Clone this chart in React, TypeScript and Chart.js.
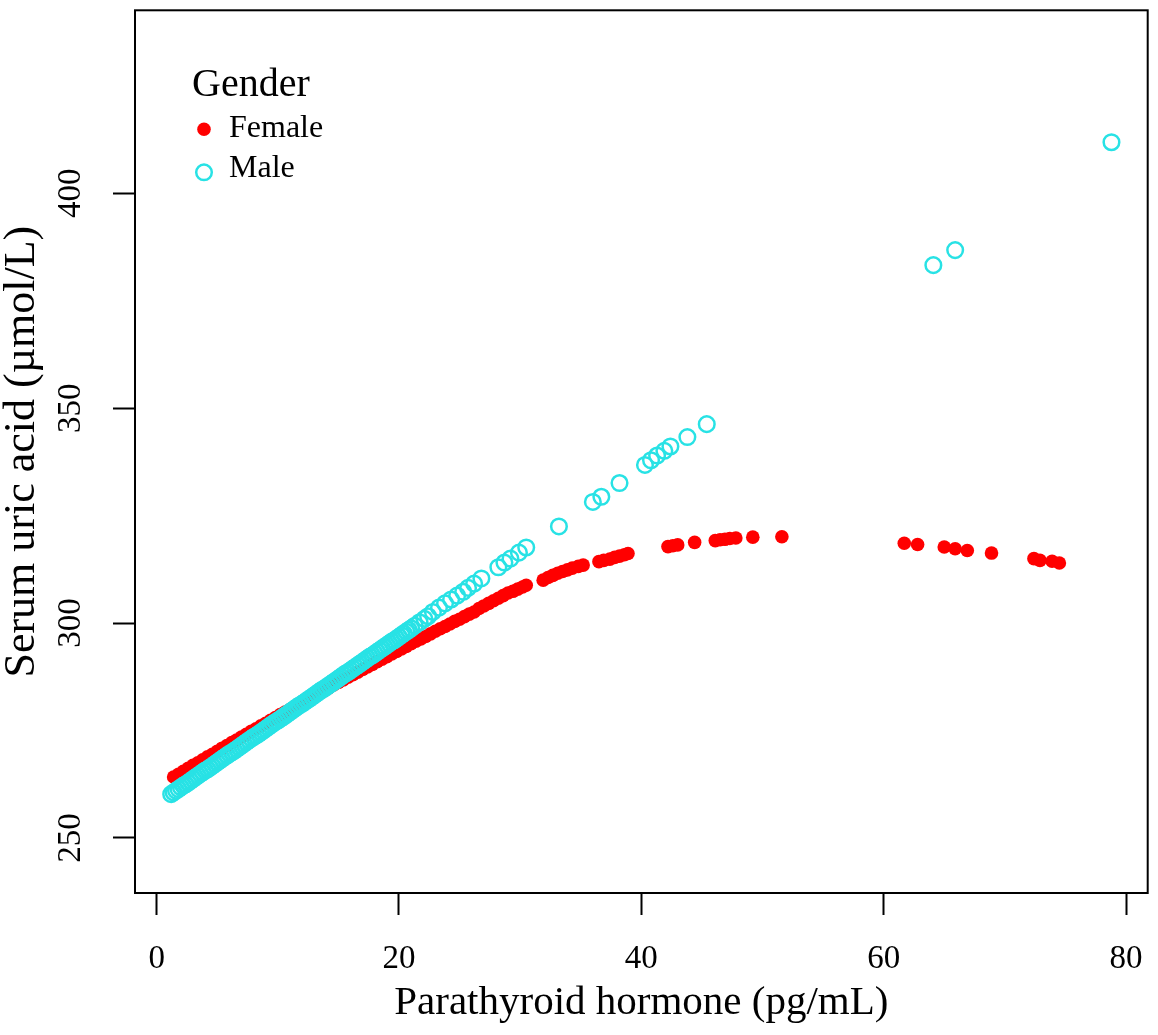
import { Chart, registerables, type Plugin } from 'chart.js';
import { type FC, useEffect, useRef } from 'react';

Chart.register(...registerables);

const FONT = "'Liberation Serif', 'Times New Roman', serif";

const xTicks = [0, 20, 40, 60, 80];
const yTicks = [250, 300, 350, 400];

const femaleX = [
  1.4, 1.8, 2.2, 2.6, 3.0, 3.4, 3.8, 4.2, 4.6, 5.0, 5.4, 5.8, 6.2, 6.6, 7.0, 7.4, 7.8, 8.2, 8.6, 9.0,
  9.4, 9.8, 10.2, 10.6, 11.0, 11.4, 11.8, 12.2, 12.6, 13.0, 13.4, 13.8, 14.2, 14.6, 15.0, 15.4, 15.8,
  16.2, 16.6, 17.0, 17.4, 17.8, 18.2, 18.6, 19.0, 19.4, 19.8, 20.2, 20.6, 21.0, 21.4, 21.8, 22.2, 22.6,
  23.0, 23.4, 23.8, 24.2, 24.6, 25.0, 25.4, 25.8, 26.2, 26.6, 27.0, 27.4, 27.8, 28.2, 28.6, 29.0, 29.4,
  29.8, 30.2, 30.5, 31.9, 32.3, 32.7, 33.1, 33.5, 33.9, 34.3, 34.8, 35.2, 36.5, 36.9, 37.4, 37.8, 38.2,
  38.6, 38.9, 42.2, 42.6, 43.0, 44.4, 46.1, 46.5, 46.9, 47.3, 47.8, 49.2, 51.6, 61.7, 62.8, 65.0, 65.9,
  66.9, 68.9, 72.4, 72.9, 73.9, 74.5,
];
const femaleY = [
  264.2, 264.8, 265.5, 266.2, 266.9, 267.5, 268.2, 268.9, 269.5, 270.2, 270.9, 271.5, 272.2, 272.8,
  273.5, 274.1, 274.8, 275.4, 276.1, 276.7, 277.4, 278.0, 278.7, 279.3, 279.9, 280.6, 281.2, 281.8,
  282.4, 283.1, 283.7, 284.3, 284.9, 285.6, 286.2, 286.8, 287.4, 288.0, 288.6, 289.2, 289.8, 290.4,
  291.0, 291.6, 292.2, 292.8, 293.4, 294.0, 294.6, 295.2, 295.8, 296.3, 296.9, 297.5, 298.1, 298.7,
  299.2, 299.8, 300.4, 300.9, 301.5, 302.1, 302.6, 303.4, 304.0, 304.6, 305.2, 305.8, 306.4, 307.0,
  307.4, 307.9, 308.4, 308.8, 310.0, 310.6, 311.1, 311.6, 312.0, 312.4, 312.8, 313.2, 313.5, 314.3,
  314.6, 314.9, 315.3, 315.6, 315.9, 316.2, 317.8, 318.0, 318.2, 318.8, 319.2, 319.4, 319.5, 319.7,
  319.8, 320.0, 320.1, 318.6, 318.3, 317.7, 317.3, 316.9, 316.3, 315.0, 314.6, 314.4, 314.0,
];

const maleX = [
  1.2, 1.4, 1.6, 1.8, 2.0, 2.2, 2.4, 2.6, 2.8, 3.0, 3.2, 3.4, 3.6, 3.8, 4.0, 4.2, 4.4, 4.6, 4.8, 5.0,
  5.2, 5.4, 5.6, 5.8, 6.0, 6.2, 6.4, 6.6, 6.8, 7.0, 7.2, 7.4, 7.6, 7.8, 8.0, 8.2, 8.4, 8.6, 8.8, 9.0,
  9.2, 9.4, 9.6, 9.8, 10.0, 10.2, 10.4, 10.6, 10.8, 11.0, 11.2, 11.4, 11.6, 11.8, 12.0, 12.2, 12.4,
  12.6, 12.8, 13.0, 13.2, 13.4, 13.6, 13.8, 14.0, 14.2, 14.4, 14.6, 14.8, 15.0, 15.2, 15.4, 15.6, 15.8,
  16.0, 16.2, 16.4, 16.6, 16.8, 17.0, 17.2, 17.4, 17.6, 17.8, 18.0, 18.2, 18.4, 18.6, 18.8, 19.0, 19.2,
  19.4, 19.6, 19.8, 20.0, 20.2, 20.4, 20.6, 20.8, 21.0, 21.3, 21.7, 22.1, 22.4, 22.8, 23.3, 23.8, 24.3,
  24.8, 25.3, 25.7, 26.2, 26.8, 28.2, 28.7, 29.2, 29.9, 30.5, 33.2, 36.0, 36.7, 38.2, 40.3, 40.8, 41.3,
  41.9, 42.4, 43.8, 45.4, 64.1, 65.9, 78.8,
];
const maleY = [
  260.2, 260.6, 261.0, 261.4, 261.8, 262.2, 262.5, 262.9, 263.3, 263.7, 264.1, 264.5, 264.9, 265.3,
  265.7, 266.0, 266.4, 266.8, 267.2, 267.6, 268.0, 268.4, 268.8, 269.2, 269.6, 269.9, 270.3, 270.7,
  271.1, 271.5, 271.9, 272.3, 272.7, 273.1, 273.5, 273.8, 274.2, 274.6, 275.0, 275.4, 275.8, 276.2,
  276.6, 277.0, 277.3, 277.7, 278.1, 278.5, 278.9, 279.3, 279.7, 280.1, 280.5, 280.9, 281.2, 281.6,
  282.0, 282.4, 282.8, 283.2, 283.6, 284.0, 284.4, 284.7, 285.1, 285.5, 285.9, 286.3, 286.7, 287.1,
  287.5, 287.9, 288.3, 288.6, 289.0, 289.4, 289.8, 290.2, 290.6, 291.0, 291.4, 291.8, 292.2, 292.5,
  292.9, 293.3, 293.7, 294.1, 294.5, 294.9, 295.3, 295.7, 296.0, 296.4, 296.8, 297.2, 297.6, 298.0,
  298.4, 298.8, 299.4, 300.2, 301.0, 301.6, 302.6, 303.6, 304.6, 305.5, 306.4, 307.3, 308.2, 309.2,
  310.4, 313.0, 314.1, 315.0, 316.4, 317.6, 322.5, 328.2, 329.4, 332.6, 336.8, 337.9, 339.0, 340.1,
  341.1, 343.3, 346.3, 383.3, 386.8, 411.9,
];

const FEMALE_COLOR = '#FF0000';
const MALE_COLOR = '#28E2E5';

// box around the plot region + the "Gender" key in its top-left corner
const framePlugin: Plugin<'scatter'> = {
  id: 'frame',
  afterDraw(chart) {
    const { ctx, chartArea } = chart;
    ctx.save();
    ctx.strokeStyle = '#000';
    ctx.lineWidth = 2;
    ctx.strokeRect(chartArea.left, chartArea.top, chartArea.right - chartArea.left, chartArea.bottom - chartArea.top);

    const lx = chartArea.left + 57;
    const ly = chartArea.top;
    ctx.fillStyle = '#000';
    ctx.textBaseline = 'alphabetic';
    ctx.textAlign = 'left';
    ctx.font = `40px ${FONT}`;
    ctx.fillText('Gender', lx, ly + 86);

    ctx.font = `32px ${FONT}`;
    const labels = chart.data.datasets.map((d) => d.label ?? '');
    ctx.fillText(labels[0], lx + 37, ly + 127);
    ctx.fillText(labels[1], lx + 37, ly + 167);

    ctx.beginPath();
    ctx.arc(lx + 12, ly + 119, 6.8, 0, Math.PI * 2);
    ctx.fillStyle = FEMALE_COLOR;
    ctx.fill();

    ctx.beginPath();
    ctx.arc(lx + 12, ly + 162, 7.8, 0, Math.PI * 2);
    ctx.strokeStyle = MALE_COLOR;
    ctx.lineWidth = 2.5;
    ctx.stroke();
    ctx.restore();
  },
};

const ScatterChart: FC = () => {
  const canvasRef = useRef<HTMLCanvasElement>(null);
  const chartRef = useRef<Chart<'scatter'> | null>(null);

  useEffect(() => {
    if (!canvasRef.current) return;

    chartRef.current = new Chart(canvasRef.current, {
      type: 'scatter',
      data: {
        datasets: [
          {
            label: 'Female',
            data: femaleX.map((x, i) => ({ x, y: femaleY[i] })),
            backgroundColor: FEMALE_COLOR,
            borderWidth: 0,
            pointRadius: 6.8,
            pointHoverRadius: 6.8,
            order: 2,
          },
          {
            label: 'Male',
            data: maleX.map((x, i) => ({ x, y: maleY[i] })),
            backgroundColor: 'rgba(0,0,0,0)',
            borderColor: MALE_COLOR,
            borderWidth: 2.5,
            pointRadius: 7.8,
            pointHoverRadius: 7.8,
            order: 1,
          },
        ],
      },
      options: {
        animation: false,
        responsive: true,
        maintainAspectRatio: false,
        events: [],
        layout: { padding: { top: 6, right: 8, left: 0, bottom: 0 } },
        plugins: {
          legend: { display: false },
          tooltip: { enabled: false },
        },
        scales: {
          x: {
            type: 'linear',
            min: -1.787,
            max: 81.79,
            afterBuildTicks: (scale) => {
              scale.ticks = xTicks.map((value) => ({ value }));
            },
            afterFit: (scale) => {
              scale.height = 142;
              scale.paddingLeft = 0;
              scale.paddingRight = 0;
            },
            border: { display: false },
            grid: {
              drawOnChartArea: false,
              drawTicks: true,
              tickLength: 22,
              tickColor: '#000',
              tickWidth: 2,
            },
            ticks: {
              color: '#000',
              font: { family: FONT, size: 33 },
              padding: 25,
              maxRotation: 0,
              autoSkip: false,
            },
            title: {
              display: true,
              text: 'Parathyroid hormone (pg/mL)',
              color: '#000',
              font: { family: FONT, size: 41, lineHeight: 1 },
              padding: { top: 0, bottom: 11 },
            },
          },
          y: {
            type: 'linear',
            min: 237.2,
            max: 442.6,
            afterBuildTicks: (scale) => {
              scale.ticks = yTicks.map((value) => ({ value }));
            },
            afterFit: (scale) => {
              scale.width = 135;
              scale.paddingTop = 0;
              scale.paddingBottom = 0;
            },
            border: { display: false },
            grid: {
              drawOnChartArea: false,
              drawTicks: true,
              tickLength: 22,
              tickColor: '#000',
              tickWidth: 2,
            },
            ticks: {
              color: '#000',
              font: { family: FONT, size: 33 },
              padding: 17,
              minRotation: 90,
              maxRotation: 90,
              crossAlign: 'center',
              autoSkip: false,
            },
            title: {
              display: true,
              text: 'Serum uric acid (µmol/L)',
              color: '#000',
              font: { family: FONT, size: 44, lineHeight: 1 },
              padding: 0,
            },
          },
        },
      },
      plugins: [framePlugin],
    });

    return () => {
      chartRef.current?.destroy();
      chartRef.current = null;
    };
  }, []);

  return (
    <div style={{ position: 'absolute', left: 0, top: 0, width: 1158, height: 1035, background: '#fff' }}>
      <canvas ref={canvasRef} />
    </div>
  );
};

export default function App() {
  return <ScatterChart />;
}
